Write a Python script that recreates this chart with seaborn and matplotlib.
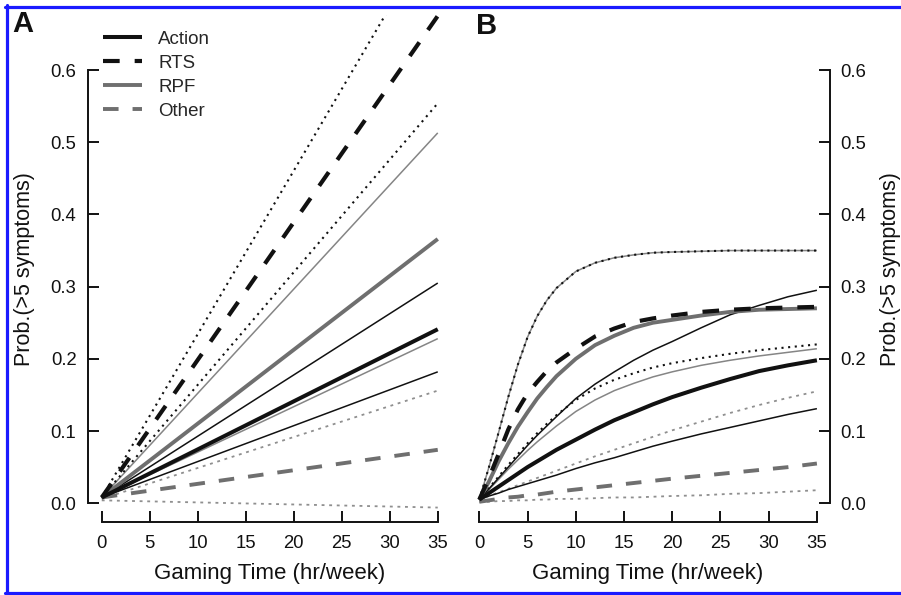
import numpy as np
import pandas as pd
import matplotlib
matplotlib.use("Agg")
import matplotlib.pyplot as plt
from matplotlib.lines import Line2D
import seaborn as sns

# ---------------- data ----------------
# Panel A (linear model) : value at 0 and 35 hr/week
hours_a = [0, 35]
action_mean_a = [0.008, 0.241]
action_lo_a = [0.008, 0.182]
action_hi_a = [0.008, 0.305]
rts_mean_a = [0.008, 0.675]
rts_lo_a = [0.008, 0.554]
rts_hi_a = [0.008, 0.800]
rpf_mean_a = [0.008, 0.366]
rpf_lo_a = [0.008, 0.228]
rpf_hi_a = [0.008, 0.513]
other_mean_a = [0.008, 0.074]
other_lo_a = [0.004, -0.006]
other_hi_a = [0.006, 0.156]

# Panel B (saturating model)
hours_b = [0, 1, 2, 3, 4, 5, 6, 7, 8, 10, 12, 14, 16, 18, 20, 23, 26, 29, 32, 35]
upper_hi_b = [0.005, 0.050, 0.098, 0.147, 0.192, 0.230, 0.259, 0.281, 0.298, 0.321, 0.333, 0.340, 0.344, 0.347, 0.348, 0.349, 0.350, 0.350, 0.350, 0.350]
rts_hi_b = upper_hi_b
rpf_hi_b = upper_hi_b
rts_mean_b = [0.005, 0.035, 0.068, 0.102, 0.130, 0.152, 0.168, 0.183, 0.195, 0.214, 0.231, 0.242, 0.251, 0.256, 0.260, 0.265, 0.268, 0.270, 0.271, 0.272]
rpf_mean_b = [0.005, 0.030, 0.058, 0.083, 0.106, 0.126, 0.145, 0.161, 0.176, 0.200, 0.219, 0.232, 0.243, 0.250, 0.254, 0.260, 0.265, 0.268, 0.269, 0.270]
action_hi_b = [0.005, 0.020, 0.035, 0.050, 0.065, 0.080, 0.094, 0.107, 0.120, 0.145, 0.165, 0.182, 0.198, 0.212, 0.224, 0.243, 0.261, 0.274, 0.286, 0.295]
rts_lo_b = [0.005, 0.021, 0.037, 0.053, 0.068, 0.083, 0.097, 0.110, 0.122, 0.143, 0.159, 0.171, 0.180, 0.188, 0.194, 0.201, 0.207, 0.212, 0.216, 0.220]
rpf_lo_b = [0.005, 0.019, 0.033, 0.047, 0.060, 0.073, 0.085, 0.096, 0.107, 0.127, 0.143, 0.156, 0.166, 0.175, 0.182, 0.191, 0.198, 0.204, 0.209, 0.214]
action_mean_b = [0.005, 0.014, 0.023, 0.032, 0.041, 0.050, 0.058, 0.066, 0.074, 0.088, 0.102, 0.115, 0.126, 0.137, 0.147, 0.160, 0.172, 0.183, 0.191, 0.198]
other_hi_b = [0.005, 0.010, 0.015, 0.020, 0.025, 0.030, 0.035, 0.040, 0.045, 0.055, 0.065, 0.074, 0.083, 0.092, 0.101, 0.113, 0.125, 0.136, 0.146, 0.155]
action_lo_b = [0.005, 0.010, 0.014, 0.019, 0.023, 0.027, 0.031, 0.035, 0.039, 0.048, 0.056, 0.063, 0.071, 0.079, 0.086, 0.096, 0.105, 0.114, 0.123, 0.131]
other_mean_b = [0.002, 0.004, 0.006, 0.008, 0.009, 0.011, 0.012, 0.014, 0.016, 0.019, 0.022, 0.025, 0.028, 0.031, 0.034, 0.038, 0.042, 0.046, 0.050, 0.055]
other_lo_b = [0.002, 0.002, 0.003, 0.003, 0.004, 0.004, 0.005, 0.005, 0.006, 0.006, 0.007, 0.008, 0.008, 0.009, 0.010, 0.011, 0.013, 0.014, 0.016, 0.018]

x_ticks = [0, 5, 10, 15, 20, 25, 30, 35]
y_ticks = [0.0, 0.1, 0.2, 0.3, 0.4, 0.5, 0.6]
y_tick_labels = ["0.0", "0.1", "0.2", "0.3", "0.4", "0.5", "0.6"]
legend_labels = ["Action", "RTS", "RPF", "Other"]
x_label = "Gaming Time (hr/week)"
y_label = "Prob.(>5 symptoms)"

# ---------------- style ----------------
sns.set_style("ticks")
plt.rcParams["font.family"] = ["Liberation Sans", "DejaVu Sans"]

BLACK = "#111111"
GRAY = "#6f6f6f"
GRAY_THIN = "#858585"
GRAY_DOT = "#8f8f8f"
DASH_THICK = (0, (4.0, 3.6))
DOT_BLACK = (0, (1.0, 2.2))
DOT_GRAY = (0, (1.6, 2.6))

styles = {
    "action_mean": dict(color=BLACK, lw=2.9, ls="-"),
    "action_ci": dict(color=BLACK, lw=1.1, ls="-"),
    "rts_mean": dict(color=BLACK, lw=3.0, ls=DASH_THICK),
    "rts_ci": dict(color=BLACK, lw=1.5, ls=DOT_BLACK),
    "rpf_mean": dict(color=GRAY, lw=2.8, ls="-"),
    "rpf_ci": dict(color=GRAY_THIN, lw=1.1, ls="-"),
    "other_mean": dict(color=GRAY, lw=2.8, ls=DASH_THICK),
    "other_ci": dict(color=GRAY_DOT, lw=1.3, ls=DOT_GRAY),
}

W, H = 901, 595
fig = plt.figure(figsize=(W / 100, H / 100), dpi=100)

XLIM = (-1.4, 36.4)
YLIM = (-0.026, 0.676)


def px_axes(left, right, top, bottom):
    return fig.add_axes([left / W, 1 - bottom / H, (right - left) / W, (bottom - top) / H])


axA = px_axes(88.3, 451.2, 15.2, 522.0)
axB = px_axes(465.8, 830.4, 15.2, 522.0)


def draw(ax, x, y, key):
    s = styles[key]
    sns.lineplot(x=x, y=y, ax=ax, color=s["color"], linewidth=s["lw"],
                 linestyle=s["ls"], sort=False, estimator=None,
                 solid_capstyle="butt", dash_capstyle="butt")


# Panel A
for y, key in [(other_lo_a, "other_ci"), (other_hi_a, "other_ci"), (other_mean_a, "other_mean"),
               (rpf_lo_a, "rpf_ci"), (rpf_hi_a, "rpf_ci"),
               (action_lo_a, "action_ci"), (action_hi_a, "action_ci"),
               (rts_lo_a, "rts_ci"), (rts_hi_a, "rts_ci"),
               (rpf_mean_a, "rpf_mean"), (action_mean_a, "action_mean"), (rts_mean_a, "rts_mean")]:
    draw(axA, hours_a, y, key)

# Panel B
for y, key in [(other_lo_b, "other_ci"), (other_hi_b, "other_ci"), (other_mean_b, "other_mean"),
               (rpf_lo_b, "rpf_ci"), (rpf_hi_b, "rpf_ci"),
               (action_lo_b, "action_ci"), (action_hi_b, "action_ci"),
               (rts_lo_b, "rts_ci"), (rts_hi_b, "rts_ci"),
               (rpf_mean_b, "rpf_mean"), (action_mean_b, "action_mean"), (rts_mean_b, "rts_mean")]:
    draw(axB, hours_b, y, key)

for ax in (axA, axB):
    ax.set_xlim(*XLIM)
    ax.set_ylim(*YLIM)
    ax.set_facecolor("none")
    ax.set_xticks(x_ticks)
    ax.set_xticklabels([str(t) for t in x_ticks])
    ax.set_yticks(y_ticks)
    ax.set_yticklabels(y_tick_labels)
    ax.spines["top"].set_visible(False)
    ax.spines["bottom"].set_bounds(0, 35)
    for sp in ax.spines.values():
        sp.set_linewidth(1.4)
        sp.set_color(BLACK)
    ax.tick_params(axis="both", direction="in", length=7.6, width=1.4,
                   color=BLACK, labelsize=13.3, labelcolor=BLACK)
    ax.tick_params(axis="x", pad=9)
    ax.set_xlabel(x_label, fontsize=16, labelpad=8, color=BLACK)

axA.spines["right"].set_visible(False)
axA.spines["left"].set_bounds(0, 0.6)
axA.tick_params(axis="y", pad=8.5)
axA.set_ylabel(y_label, fontsize=15.5, labelpad=11, color=BLACK)

axB.spines["left"].set_visible(False)
axB.spines["right"].set_bounds(0, 0.6)
axB.yaxis.tick_right()
axB.yaxis.set_label_position("right")
axB.tick_params(axis="y", pad=7)
axB.set_ylabel(y_label, fontsize=15.5, labelpad=10, color=BLACK, rotation=90)

# Legend
handles = [Line2D([], [], **{"color": styles[k]["color"], "lw": styles[k]["lw"], "ls": styles[k]["ls"]})
           for k in ["action_mean", "rts_mean", "rpf_mean", "other_mean"]]
for h in handles:
    h.set_solid_capstyle("butt")
    h.set_dash_capstyle("butt")
axA.legend(handles, legend_labels, loc="upper left", bbox_to_anchor=(103 / W, 1 - 30.5 / H),
           bbox_transform=fig.transFigure, frameon=False, fontsize=13.5, borderpad=0,
           borderaxespad=0, handlelength=2.1, handletextpad=0.85, labelspacing=0.37)

# Panel letters
fig.text(12 / W, 1 - 10 / H, "A", fontsize=21, fontweight="bold", va="top", ha="left", color=BLACK)
fig.text(476 / W, 1 - 12 / H, "B", fontsize=21, fontweight="bold", va="top", ha="left", color=BLACK)

# Blue frame (top, left, bottom)
blue = "#1a1aff"
fig.add_artist(Line2D([5 / W, 1], [1 - 6.5 / H, 1 - 6.5 / H], transform=fig.transFigure, color=blue, lw=2.3))
fig.add_artist(Line2D([6.5 / W, 6.5 / W], [0, 1 - 5 / H], transform=fig.transFigure, color=blue, lw=2.3))
fig.add_artist(Line2D([5 / W, 1], [1.6 / H, 1.6 / H], transform=fig.transFigure, color=blue, lw=2.3))

fig.savefig("out.png", dpi=100)
